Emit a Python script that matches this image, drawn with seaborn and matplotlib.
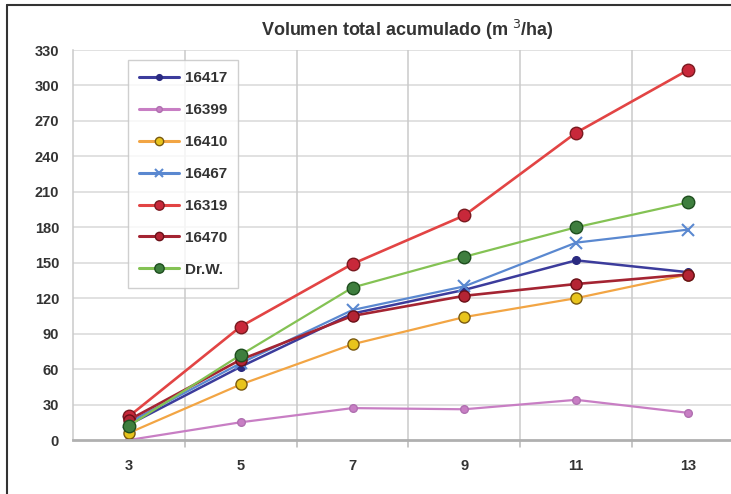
import matplotlib
matplotlib.use("Agg")
import matplotlib.pyplot as plt
import seaborn as sns
import pandas as pd
from matplotlib.lines import Line2D

weeks = [3, 5, 7, 9, 11, 13]
s16417 = [13, 62, 107, 127, 152, 142]
s16399 = [0, 15, 27, 26, 34, 23]
s16410 = [6, 47, 81, 104, 120, 140]
s16467 = [15, 65, 110, 130, 167, 178]
s16319 = [20, 96, 149, 190, 260, 313]
s16470 = [17, 68, 105, 122, 132, 140]
drw = [12, 72, 129, 155, 180, 201]
series_names = ["16417", "16399", "16410", "16467", "16319", "16470", "Dr.W."]
y_ticks = list(range(0, 331, 30))

series_values = [s16417, s16399, s16410, s16467, s16319, s16470, drw]
styles = {
    "16417": dict(color="#3c3c9c", marker="o", ms=5.5, mfc="#2a2a80", mec="#2a2a80", lw=1.8),
    "16399": dict(color="#c87ec4", marker="o", ms=5.5, mfc="#c87ec4", mec="#b070b0", lw=1.6),
    "16410": dict(color="#f2a544", marker="o", ms=8, mfc="#e8c41c", mec="#7a5a10", lw=1.6),
    "16467": dict(color="#5a88d0", marker="x", ms=8, mfc="#5a88d0", mec="#5a88d0", lw=1.6, mew=1.5),
    "16319": dict(color="#e24444", marker="o", ms=9, mfc="#c8283a", mec="#7a1a20", lw=1.9),
    "16470": dict(color="#a42432", marker="o", ms=8, mfc="#b42434", mec="#6a1018", lw=1.9),
    "Dr.W.": dict(color="#84c254", marker="o", ms=9, mfc="#3e7e3e", mec="#1e4e1e", lw=1.6),
}

df = pd.DataFrame({"week": weeks})
for n, v in zip(series_names, series_values):
    df[n] = v

sns.set_style("white")
plt.rcParams["font.family"] = ["Liberation Sans", "DejaVu Sans"]
fig = plt.figure(figsize=(7.31, 4.94), dpi=100)
ax = fig.add_axes([73 / 731, 1 - 440 / 494, 1 - 73 / 731, 390 / 494])

for n in series_names:
    st = styles[n]
    sns.lineplot(data=df, x="week", y=n, ax=ax, color=st["color"], marker=st["marker"],
                 markersize=st["ms"], markerfacecolor=st["mfc"], markeredgecolor=st["mec"],
                 markeredgewidth=st.get("mew", 1.0), linewidth=st["lw"], label=n, legend=False)

x_right = 2 + (731 - 73) / 55.9
ax.set_xlim(2, x_right)
ax.set_ylim(0, 330)
ax.set_xticks(weeks)
ax.set_xticklabels([str(w) for w in weeks])
ax.set_yticks(y_ticks)
ax.set_xlabel("")
ax.set_ylabel("")

for y in y_ticks[1:]:
    ax.axhline(y, color="#dedede", lw=1.3, zorder=0)
for x in [4, 6, 8, 10, 12]:
    ax.axvline(x, color="#cacaca", lw=1.1, zorder=0)
    ax.plot([x, x], [0, -6], color="#b8b8b8", lw=1.1, clip_on=False, zorder=0)

for side in ["top", "right"]:
    ax.spines[side].set_visible(False)
ax.spines["left"].set_color("#cacaca")
ax.spines["left"].set_linewidth(1.1)
ax.spines["bottom"].set_color("#b0b0b0")
ax.spines["bottom"].set_linewidth(2.0)

ax.tick_params(axis="both", length=0, labelsize=10.5, labelcolor="#333333")
ax.tick_params(axis="y", pad=10)
ax.tick_params(axis="x", pad=14)
for lab in ax.get_xticklabels() + ax.get_yticklabels():
    lab.set_fontweight("bold")

handles = []
for n in series_names:
    st = styles[n]
    handles.append(Line2D([0], [0], color=st["color"], marker=st["marker"], markersize=st["ms"] * 0.75,
                          markerfacecolor=st["mfc"], markeredgecolor=st["mec"],
                          markeredgewidth=st.get("mew", 1.0), linewidth=2.2))
leg = ax.legend(handles, series_names, loc="upper left", bbox_to_anchor=(55 / 658, 380 / 390),
                frameon=True, fancybox=False, handlelength=2.6, labelspacing=1.17,
                borderpad=0.75, handletextpad=0.35, borderaxespad=0,
                prop=dict(weight="bold", size=11))
leg.get_frame().set_edgecolor("#c4c4c4")
leg.get_frame().set_linewidth(1.0)
for t in leg.get_texts():
    t.set_color("#333333")

fig.text(407 / 731, 1 - 30 / 494, "Volumen total acumulado (m $^3$/ha)", ha="center", va="center",
         fontsize=13, fontweight="bold", color="#333333")

fig.add_artist(Line2D([7 / 731, 7 / 731], [0, 1 - 5 / 494], transform=fig.transFigure, color="#333333", lw=1.5))
fig.add_artist(Line2D([7 / 731, 1], [1 - 5 / 494, 1 - 5 / 494], transform=fig.transFigure, color="#333333", lw=1.5))

fig.savefig("out.png", dpi=100, facecolor="white")
